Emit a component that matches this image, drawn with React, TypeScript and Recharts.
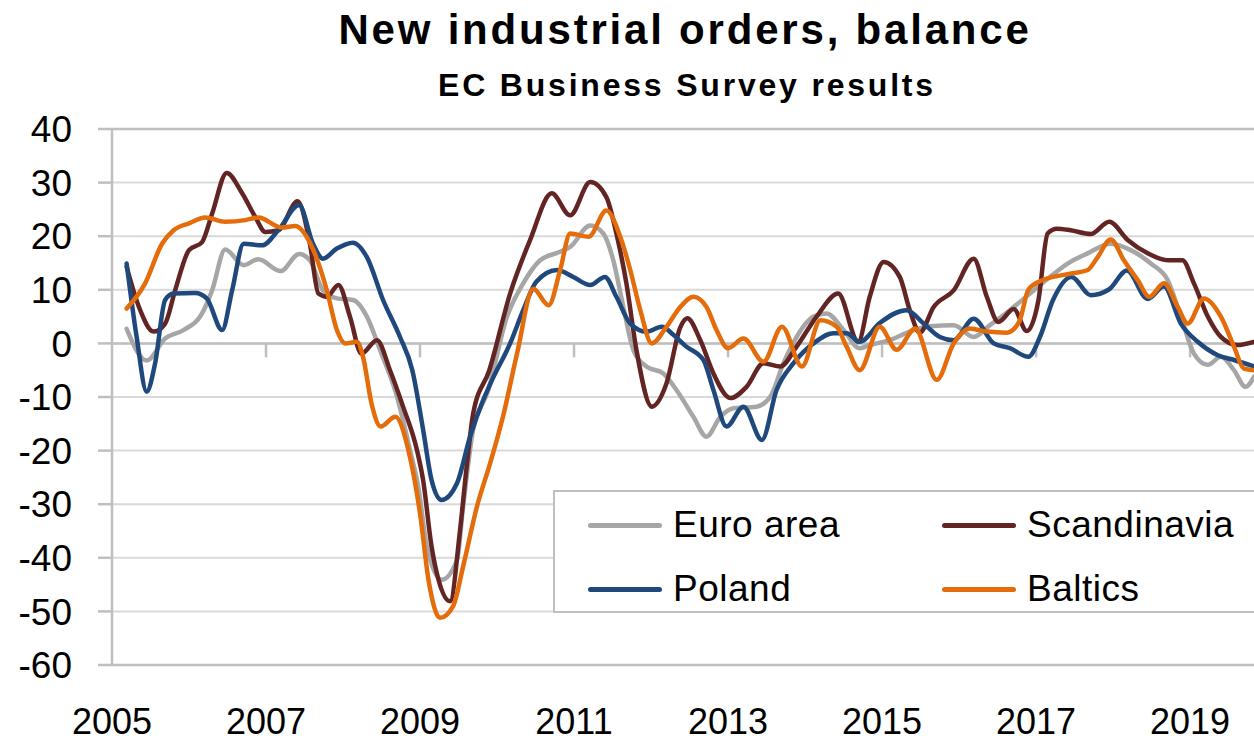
import { LineChart, Line, XAxis, YAxis, CartesianGrid, ReferenceLine } from "recharts";

const FONT = '"Liberation Sans", Arial, sans-serif';

const yearTicks = [2005, 2007, 2009, 2011, 2013, 2015, 2017, 2019];
const valueTicks = [-60, -50, -40, -30, -20, -10, 0, 10, 20, 30, 40];

// Euro area
const euroT = [
  2005.19, 2005.45, 2005.69, 2005.93, 2006.17, 2006.3, 2006.47, 2006.71, 2006.9, 2007.19,
  2007.43, 2007.57, 2007.74, 2007.92, 2008.13, 2008.31, 2008.48, 2008.7, 2008.87, 2008.98,
  2009.09, 2009.28, 2009.48, 2009.56, 2009.69, 2009.88, 2010.13, 2010.34, 2010.56, 2010.82,
  2010.95, 2011.21, 2011.38, 2011.51, 2011.64, 2011.77, 2011.94, 2012.16, 2012.33, 2012.55,
  2012.72, 2012.9, 2013.07, 2013.37, 2013.55, 2013.72, 2013.89, 2014.11, 2014.28, 2014.5,
  2014.71, 2014.84, 2015.1, 2015.36, 2015.62, 2015.93, 2016.19, 2016.4, 2016.66, 2016.92,
  2017.18, 2017.41, 2017.67, 2017.97, 2018.23, 2018.49, 2018.71, 2018.88, 2019.05, 2019.23,
  2019.4, 2019.57, 2019.72, 2019.83,
];
const euroV = [
  2.7, -3.2, 0.9, 2.5, 5.6, 9.9, 17.5, 14.6, 15.7, 13.5,
  16.7, 15.5, 9.9, 8.4, 8.1, 5.0, -1.2, -9.9, -19.9, -27,
  -38, -44.1, -40.4, -30.4, -16.1, -9, 5.0, 11.2, 15.5, 17.1,
  18.0, 22.0, 20.5, 15.5, 6.8, -1.2, -4.3, -5.6, -8.7, -13.7,
  -17.4, -13.7, -12.1, -11.8, -9.9, -3.7, 1.2, 5.0, 5.6, 2.5,
  -0.9, -0.3, 0.6, 2.2, 3.2, 3.4, 1.2, 3.4, 6.2, 9.3,
  12.4, 14.9, 16.8, 18.6, 17.4, 14.9, 11.8, 5.0, -1.9, -4.0,
  -2.5, -5.0, -8.1, -6.2,
];

// Scandinavia
const scanT = [
  2005.19, 2005.35, 2005.54, 2005.69, 2005.82, 2006.0, 2006.17, 2006.3, 2006.49, 2006.69,
  2006.86, 2006.99, 2007.16, 2007.41, 2007.57, 2007.68, 2007.79, 2007.94, 2008.09, 2008.24,
  2008.44, 2008.61, 2008.78, 2008.96, 2009.04, 2009.15, 2009.24, 2009.39, 2009.52, 2009.61,
  2009.69, 2009.9, 2010.17, 2010.43, 2010.71, 2010.95, 2011.21, 2011.42, 2011.55, 2011.68,
  2011.81, 2012.01, 2012.2, 2012.38, 2012.47, 2012.64, 2012.81, 2013.03, 2013.24, 2013.46,
  2013.68, 2013.89, 2014.15, 2014.43, 2014.69, 2014.84, 2015.02, 2015.23, 2015.36, 2015.49,
  2015.67, 2015.93, 2016.19, 2016.36, 2016.51, 2016.71, 2016.88, 2017.03, 2017.15, 2017.27,
  2017.45, 2017.71, 2017.95, 2018.19, 2018.45, 2018.71, 2018.9, 2019.05, 2019.23, 2019.4,
  2019.61, 2019.83,
];
const scanV = [
  14.3, 6.8, 2.2, 3.7, 9.9, 17.4, 18.9, 24.2, 31.8, 28.0,
  23.6, 20.8, 21.1, 26.5, 18.6, 9.3, 8.7, 10.9, 5.0, -1.9,
  0.6, -5.0, -11.8, -19.9, -25.5, -37.9, -44.1, -48.1, -34.8, -22.4,
  -13.1, -5, 9.3, 19.3, 28.0, 23.9, 30.1, 27.3, 20.5, 11.2,
  -1.2, -11.8, -7.5, 3.0, 4.7, 0.6, -5.6, -10.2, -8.1, -3.7,
  -4.3, -0.6, 5.0, 9.3, 0.3, 8.7, 15.2, 12.4, 6.2, 2.0,
  6.8, 9.9, 15.8, 8.7, 4.0, 6.4, 2.3, 8, 20.5, 21.4,
  21.1, 20.4, 22.7, 19.3, 16.8, 15.5, 15.5, 11.2, 5.0, 1.2,
  -0.3, 0.3,
];

// Poland
const polT = [
  2005.19, 2005.32, 2005.45, 2005.56, 2005.69, 2005.8, 2006.08, 2006.23, 2006.43, 2006.56,
  2006.71, 2006.95, 2007.16, 2007.43, 2007.61, 2007.74, 2007.92, 2008.13, 2008.31, 2008.52,
  2008.74, 2008.9, 2009.04, 2009.15, 2009.28, 2009.48, 2009.65, 2009.82, 2009.93, 2010.17,
  2010.34, 2010.51, 2010.78, 2010.99, 2011.21, 2011.4, 2011.55, 2011.73, 2011.94, 2012.14,
  2012.29, 2012.45, 2012.68, 2012.81, 2012.98, 2013.2, 2013.44, 2013.63, 2013.85, 2014.11,
  2014.37, 2014.54, 2014.71, 2014.97, 2015.32, 2015.54, 2015.75, 2015.93, 2016.19, 2016.45,
  2016.66, 2016.9, 2017.05, 2017.22, 2017.46, 2017.71, 2017.95, 2018.18, 2018.45, 2018.66,
  2018.88, 2019.1, 2019.36, 2019.57, 2019.83,
];
const polV = [
  14.9, 1.2, -9.0, -3.7, 8.1, 9.3, 9.4, 8.4, 2.5, 9.9,
  18.6, 18.3, 21.1, 25.8, 18.6, 15.8, 17.7, 18.8, 16.1, 8.1,
  1.2, -5, -16.1, -25.5, -29.2, -26.1, -17.4, -10.6, -7, 0,
  6.2, 11.5, 13.7, 12.4, 10.9, 12.4, 8.7, 3.7, 2.2, 3.1,
  1.6, -0.5, -3.1, -8.7, -15.5, -11.8, -18.0, -8.7, -3.7, 0,
  1.9, 1.9, 0.3, 3.8, 6.2, 3.7, 1.2, 0.6, 4.6, 0,
  -0.9, -2.5, 1.2, 8.1, 12.4, 9.0, 10.1, 13.6, 8.3, 10.6,
  3.7, 0.3, -2.2, -3.1, -4.3,
];

// Baltics
const balT = [
  2005.19, 2005.43, 2005.65, 2005.8, 2006.0, 2006.21, 2006.47, 2006.73, 2006.9, 2007.21,
  2007.38, 2007.57, 2007.79, 2007.92, 2008.03, 2008.18, 2008.26, 2008.37, 2008.49, 2008.68,
  2008.85, 2009.0, 2009.11, 2009.26, 2009.43, 2009.56, 2009.74, 2009.91, 2010.08, 2010.26,
  2010.47, 2010.67, 2010.82, 2010.95, 2011.19, 2011.42, 2011.6, 2011.73, 2011.86, 2012.01,
  2012.2, 2012.38, 2012.55, 2012.72, 2012.85, 2013.0, 2013.2, 2013.46, 2013.7, 2013.96,
  2014.2, 2014.41, 2014.54, 2014.71, 2014.97, 2015.19, 2015.43, 2015.71, 2015.93, 2016.14,
  2016.36, 2016.62, 2016.78, 2016.9, 2017.05, 2017.44, 2017.67, 2017.8, 2017.97, 2018.14,
  2018.32, 2018.47, 2018.66, 2018.84, 2018.97, 2019.18, 2019.4, 2019.57, 2019.7, 2019.83,
];
const balV = [
  6.5, 11.2, 18.6, 21.1, 22.4, 23.5, 22.7, 23.0, 23.5, 21.6,
  21.9, 18.8, 9.9, 2.5, 0, 0.3, -2.5, -11.2, -15.5, -13.7,
  -20, -31.7, -44.1, -51.2, -49.0, -41.6, -30.4, -22.4, -13.5, -1.9,
  10.2, 7.1, 13.7, 20.5, 19.9, 24.8, 19.9, 13.7, 6.2, 0,
  3.1, 6.8, 8.7, 6.8, 2.5, -0.9, 0.9, -3.4, 3.1, -4.3,
  4.3, 3.1, -0.6, -5.0, 3.1, -1.2, 2.8, -6.8, 0, 2.8,
  2.2, 2.0, 4.0, 10.0, 11.6, 13.0, 13.7, 16.1, 19.4, 15.5,
  11.8, 8.7, 11.2, 6.8, 3.7, 8.4, 5.0, -0.6, -4.7, -5.0,
];

const series = [
  { name: "Euro area", color: "#a6a6a6", t: euroT, v: euroV },
  { name: "Scandinavia", color: "#632523", t: scanT, v: scanV },
  { name: "Poland", color: "#1f497d", t: polT, v: polV },
  { name: "Baltics", color: "#e46c0a", t: balT, v: balV },
];

// legend is laid out in two rows, two columns
const legendRows = [
  ["Euro area", "Scandinavia"],
  ["Poland", "Baltics"],
];

const toPoints = (t: number[], v: number[]) => t.map((x, i) => ({ t: x, v: v[i] }));

function ChartLegend() {
  const colX = [35, 389];
  const rowY = [33, 97];
  return (
    <div
      style={{
        position: "absolute",
        left: 553,
        top: 490,
        width: 760,
        height: 123,
        border: "2px solid #bfbfbf",
        background: "#fff",
        boxSizing: "border-box",
      }}
    >
      {legendRows.map((row, r) =>
        row.map((name, c) => {
          const s = series.find((x) => x.name === name)!;
          return (
            <div
              key={name}
              style={{
                position: "absolute",
                left: colX[c] - 2,
                top: rowY[r] - 22,
                height: 44,
                display: "flex",
                alignItems: "center",
                whiteSpace: "nowrap",
              }}
            >
              <span
                style={{
                  display: "inline-block",
                  width: 74,
                  height: 5,
                  borderRadius: 3,
                  background: s.color,
                  marginRight: 11,
                }}
              />
              <span style={{ fontSize: 37, letterSpacing: 0.5, color: "#000" }}>{name}</span>
            </div>
          );
        })
      )}
    </div>
  );
}

export default function App() {
  return (
    <div
      style={{
        position: "absolute",
        left: 0,
        top: 0,
        width: 1254,
        height: 741,
        overflow: "hidden",
        background: "#fff",
        fontFamily: FONT,
      }}
    >
      <div
        style={{
          position: "absolute",
          left: 85,
          top: 9,
          width: 1200,
          textAlign: "center",
          fontSize: 42,
          lineHeight: "42px",
          fontWeight: "bold",
          letterSpacing: 2.8,
        }}
      >
        New industrial orders, balance
      </div>
      <div
        style={{
          position: "absolute",
          left: 87,
          top: 69,
          width: 1200,
          textAlign: "center",
          fontSize: 32,
          lineHeight: "32px",
          fontWeight: "bold",
          letterSpacing: 2.8,
        }}
      >
        EC Business Survey results
      </div>

      <div style={{ position: "absolute", left: 0, top: 0 }}>
        <LineChart width={1254} height={741} margin={{ top: 129, right: 0, left: 0, bottom: 16 }}>
          <CartesianGrid horizontal vertical={false} stroke="#d9d9d9" strokeWidth={2} />
          <CartesianGrid
            horizontal
            vertical={false}
            horizontalValues={[40, 0, -60]}
            stroke="#bfbfbf"
            strokeWidth={2.5}
          />
          <XAxis
            type="number"
            dataKey="t"
            domain={[2005, 2019.83]}
            ticks={yearTicks}
            interval={0}
            allowDataOverflow
            axisLine={false}
            tickLine={false}
            tickSize={0}
            tickMargin={43}
            height={60}
            tick={{ fontSize: 36, fill: "#000", fontFamily: FONT }}
          />
          <YAxis
            domain={[-60, 40]}
            ticks={valueTicks}
            interval={0}
            width={112}
            tickSize={14}
            tickMargin={26}
            axisLine={{ stroke: "#bfbfbf", strokeWidth: 2.5 }}
            tickLine={{ stroke: "#bfbfbf", strokeWidth: 2.5 }}
            tick={{ fontSize: 37, fill: "#000", fontFamily: FONT }}
          />
          {yearTicks.slice(1).map((yr) => (
            <ReferenceLine
              key={yr}
              segment={[
                { x: yr, y: 0 },
                { x: yr, y: -2.6 },
              ]}
              stroke="#bfbfbf"
              strokeWidth={2.5}
            />
          ))}
          {series.map((s) => (
            <Line
              key={s.name}
              data={toPoints(s.t, s.v)}
              dataKey="v"
              name={s.name}
              type="monotone"
              stroke={s.color}
              strokeWidth={4.5}
              strokeLinecap="round"
              strokeLinejoin="round"
              dot={false}
              activeDot={false}
              isAnimationActive={false}
            />
          ))}
        </LineChart>
      </div>

      <ChartLegend />
    </div>
  );
}
